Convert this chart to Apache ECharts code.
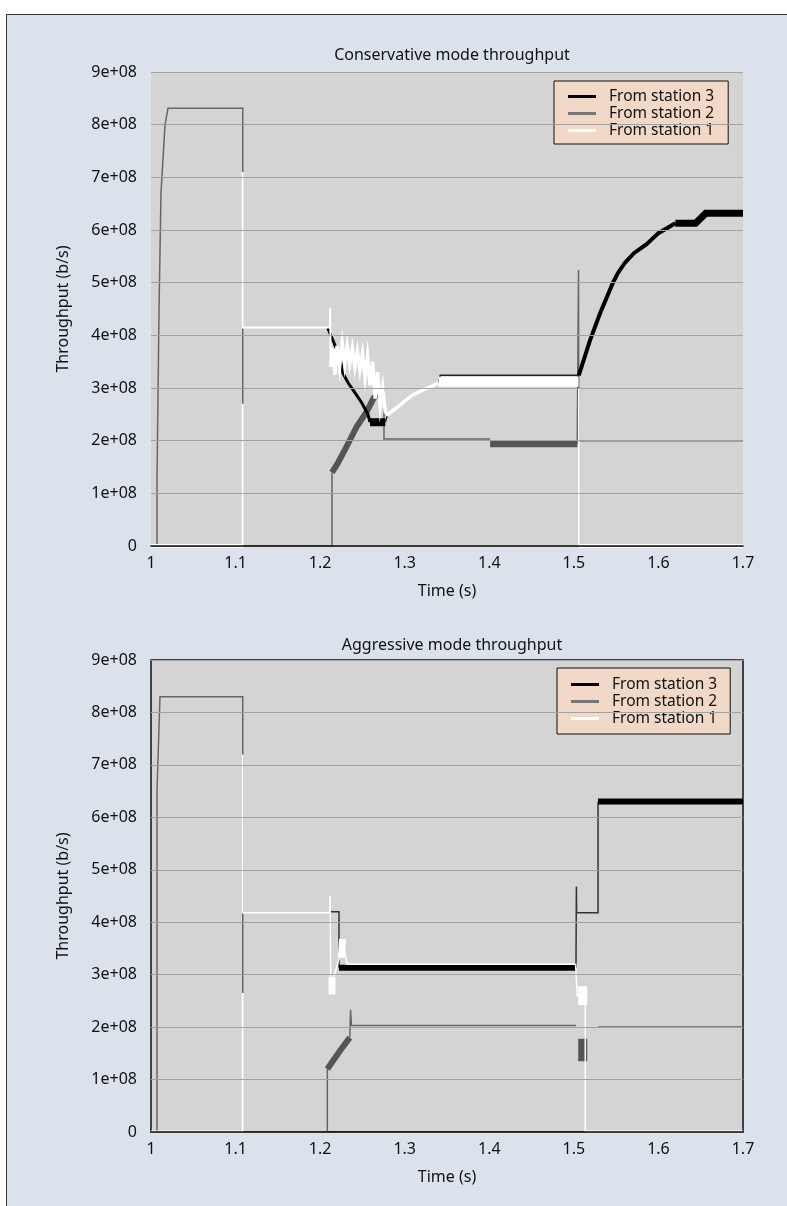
<!DOCTYPE html>
<html>
<head>
<meta charset="utf-8">
<script src="https://cdn.jsdelivr.net/npm/echarts@6/dist/echarts.min.js"></script>
<style>
  html, body { margin: 0; padding: 0; background: #ffffff; }
  #wrap { position: relative; width: 787px; height: 1206px; overflow: hidden; }
  #frame { position: absolute; left: 6px; top: 14px; width: 820px; height: 1240px;
           background: #dbe2ec; border-left: 1.5px solid #3a3a3a; border-top: 1.5px solid #3a3a3a; }
  #chart { position: absolute; left: 0; top: 0; width: 787px; height: 1206px; }
</style>
</head>
<body>
<div id="wrap"><div id="frame"></div><div id="chart"></div></div>
<script>
// ---------- text ----------
const titles = ['Conservative mode throughput', 'Aggressive mode throughput'];
const seriesNames = ['From station 3', 'From station 2', 'From station 1'];
const xName = 'Time (s)';
const yName = 'Throughput (b/s)';

// ---------- Conservative mode (top) : [time s, throughput b/s] ----------
// station 2 (gray)
const consS2Thin  = [[1.0,0],[1.0071,0],[1.0071,1.25e8],[1.0095,4.5e8],[1.0118,6.7e8],[1.0166,8.0e8],[1.0201,8.31e8],[1.1085,8.31e8],[1.1085,0],[1.2140,0],[1.2140,1.40e8]];
const consS2Blob  = [[1.2140,1.40e8],[1.2200,1.55e8],[1.2300,1.85e8],[1.2430,2.26e8],[1.2550,2.55e8],[1.2630,2.80e8],[1.2720,2.97e8]];
const consS2Flat  = [[1.2720,2.97e8],[1.2755,2.97e8],[1.2755,2.03e8],[1.4010,2.03e8]];
const consS2Comb  = [[1.4010,1.94e8],[1.5040,1.94e8]];
const consS2Tail  = [[1.5040,1.94e8],[1.5055,5.24e8],[1.5058,2.0e8],[1.7,2.0e8]];
// station 3 (black)
const consS3Drop  = [[1.2090,4.14e8],[1.2165,3.85e8],[1.2235,3.58e8],[1.2270,3.28e8],[1.2330,3.10e8],[1.2395,2.95e8],[1.2495,2.71e8],[1.2565,2.50e8],[1.2590,2.35e8]];
const consS3Block = [[1.2590,2.35e8],[1.2770,2.35e8]];
const consS3Mid   = [[1.2770,2.35e8],[1.2800,2.50e8],[1.3000,2.75e8],[1.3200,2.95e8],[1.3400,3.10e8],[1.3420,3.24e8],[1.5058,3.24e8]];
const consS3Curve = [[1.5058,3.24e8],[1.519,3.9e8],[1.531,4.42e8],[1.546,4.99e8],[1.552,5.18e8],[1.560,5.37e8],[1.571,5.56e8],[1.586,5.73e8],[1.600,5.94e8],[1.615,6.08e8],[1.620,6.13e8]];
const consS3Top   = [[1.620,6.13e8],[1.644,6.13e8],[1.656,6.32e8],[1.7,6.32e8]];
// station 1 (white)
const consS1Zero1 = [[1.0,0],[1.1085,0]];
const consS1VLow  = [[1.1085,0],[1.1085,2.7e8]];
const consS1Main  = [[1.1085,7.1e8],[1.1085,4.15e8],[1.2115,4.15e8],[1.2118,4.53e8],[1.2125,3.4e8]];
const consS1Blob  = [[1.2125,3.4e8],[1.2150,3.75e8],[1.2175,3.25e8],[1.2200,3.8e8],[1.2230,3.4e8],[1.2260,3.85e8],[1.2290,3.45e8],[1.2320,3.8e8],[1.2350,3.45e8],[1.2380,3.75e8],[1.2410,3.4e8],[1.2440,3.7e8],[1.2470,3.35e8],[1.2500,3.65e8],[1.2530,3.2e8],[1.2560,3.6e8],[1.2590,3.05e8],[1.2620,3.5e8],[1.2650,2.8e8],[1.2680,3.3e8],[1.2710,2.65e8],[1.2740,3.0e8],[1.2770,2.55e8],[1.2800,2.5e8],[1.2900,2.62e8],[1.3000,2.75e8],[1.3100,2.87e8],[1.3200,2.95e8],[1.3300,3.02e8],[1.3400,3.1e8]];
const consS1Band  = [[1.3400,3.12e8],[1.5055,3.12e8]];
const consS1Drop  = [[1.5058,3.0e8],[1.5058,0]];
const consS1Zero2 = [[1.5058,0],[1.7,0]];

// ---------- Aggressive mode (bottom) ----------
// station 2 (gray)
const aggS2Thin  = [[1.0,0],[1.0071,0],[1.0071,6.5e8],[1.0106,8.3e8],[1.1085,8.3e8],[1.1085,0],[1.2085,0],[1.2085,1.2e8]];
const aggS2Blob  = [[1.2085,1.2e8],[1.2235,1.55e8],[1.2350,1.8e8]];
const aggS2Flat  = [[1.2350,1.8e8],[1.2360,2.33e8],[1.2370,2.03e8],[1.5025,2.03e8]];
const aggS2Blob2 = [[1.5105,1.35e8],[1.5105,1.78e8]];
const aggS2Tail  = [[1.5286,2.0e8],[1.7,2.0e8]];
// station 3 (black)
const aggS3Step  = [[1.2117,4.2e8],[1.2223,4.2e8],[1.2223,3.13e8]];
const aggS3Flat  = [[1.2223,3.13e8],[1.5025,3.13e8]];
const aggS3Mid   = [[1.5025,3.13e8],[1.5030,4.68e8],[1.5033,4.18e8],[1.5286,4.18e8],[1.5286,6.3e8]];
const aggS3Top   = [[1.5286,6.3e8],[1.7,6.3e8]];
// station 1 (white)
const aggS1Zero1 = [[1.0,0],[1.1085,0]];
const aggS1VLow  = [[1.1085,0],[1.1085,2.65e8]];
const aggS1Main  = [[1.1085,7.2e8],[1.1085,4.18e8],[1.2115,4.18e8],[1.2118,4.5e8],[1.2125,2.75e8],[1.2240,3.4e8],[1.2270,3.6e8],[1.2320,3.2e8],[1.5020,3.2e8],[1.5040,2.6e8],[1.5135,2.6e8],[1.5135,0]];
const aggS1Blob1 = [[1.2140,2.62e8],[1.2140,2.95e8]];
const aggS1Blob2 = [[1.2250,3.32e8],[1.2265,3.68e8]];
const aggS1Blob3 = [[1.5105,2.42e8],[1.5105,2.78e8]];
const aggS1Zero2 = [[1.5135,0],[1.7,0]];

// ---------- styles ----------
const C3 = '#000000', C2 = '#666666', C2dark = '#555555', C1 = '#ffffff';
const FONT = 'Noto Sans';

const series = [];
function seg(name, color, width, data, gi, z) {
  series.push({
    type: 'line', name: name, xAxisIndex: gi, yAxisIndex: gi, data: data,
    showSymbol: false, symbol: 'none', z: z, silent: true, animation: false, clip: true,
    lineStyle: { color: color, width: width, cap: 'butt', join: 'miter' },
    itemStyle: { color: color }, emphasis: { disabled: true }
  });
}
const [N3, N2, N1] = seriesNames;
// top
seg(N2, C2, 1.5, consS2Thin, 0, 2);
seg(N2, C2dark, 6, consS2Blob, 0, 2);
seg(N2, C2, 1.5, consS2Flat, 0, 2);
seg(N2, C2dark, 7, consS2Comb, 0, 2);
seg(N2, C2, 1.5, consS2Tail, 0, 2);
seg(N3, C3, 3, consS3Drop, 0, 3);
seg(N3, C3, 8, consS3Block, 0, 3);
seg(N3, '#222222', 1.5, consS3Mid, 0, 3);
seg(N3, C3, 4, consS3Curve, 0, 3);
seg(N3, C3, 7, consS3Top, 0, 3);
seg(N1, C1, 4, consS1Zero1, 0, 4);
seg(N1, C1, 2, consS1VLow, 0, 4);
seg(N1, C1, 2, consS1Main, 0, 4);
seg(N1, C1, 3.5, consS1Blob, 0, 4);
seg(N1, C1, 10, consS1Band, 0, 4);
seg(N1, C1, 1.5, consS1Drop, 0, 4);
seg(N1, C1, 4, consS1Zero2, 0, 4);
// bottom
seg(N2, C2, 1.5, aggS2Thin, 1, 2);
seg(N2, C2dark, 6, aggS2Blob, 1, 2);
seg(N2, C2, 1.5, aggS2Flat, 1, 2);
seg(N2, C2dark, 9, aggS2Blob2, 1, 2);
seg(N2, C2, 1.5, aggS2Tail, 1, 2);
seg(N3, '#333333', 1.5, aggS3Step, 1, 3);
seg(N3, C3, 6, aggS3Flat, 1, 3);
seg(N3, '#333333', 1.5, aggS3Mid, 1, 3);
seg(N3, C3, 6, aggS3Top, 1, 3);
seg(N1, C1, 3, aggS1Zero1, 1, 4);
seg(N1, C1, 2, aggS1VLow, 1, 4);
seg(N1, C1, 1.5, aggS1Main, 1, 4);
seg(N1, C1, 7, aggS1Blob1, 1, 4);
seg(N1, C1, 7, aggS1Blob2, 1, 4);
seg(N1, C1, 9, aggS1Blob3, 1, 4);
seg(N1, C1, 3, aggS1Zero2, 1, 4);

const gridBoxes = [
  { left: 151, top: 72, width: 592, height: 474 },
  { left: 151, top: 660, width: 592, height: 472 }
];
const titleTops = [41, 631];
const legendBoxes = [{ left: 554, top: 81, pad: [7, 14, 5, 14] }, { left: 557, top: 668, pad: [8, 13, 7, 14] }];

function xAxisFor(i) {
  return {
    type: 'value', gridIndex: i, min: 1, max: 1.7, interval: 0.1, z: 6,
    name: xName, nameLocation: 'middle', nameGap: 37,
    nameTextStyle: { fontFamily: FONT, fontSize: 16, color: '#111' },
    axisLine: { show: true, onZero: false, lineStyle: { color: '#111', width: 1.5 } },
    axisTick: { show: false },
    splitLine: { show: false },
    axisLabel: { margin: 9, fontFamily: FONT, fontSize: 16, color: '#111',
                 formatter: v => String(Math.round(v * 10) / 10) }
  };
}
function yAxisFor(i) {
  return {
    type: 'value', gridIndex: i, min: 0, max: 9e8, interval: 1e8, z: 6,
    name: yName, nameLocation: 'middle', nameGap: 80,
    nameTextStyle: { fontFamily: FONT, fontSize: 16, color: '#111' },
    axisLine: { show: false }, axisTick: { show: false },
    splitLine: { show: true, lineStyle: { color: '#a2a2a2', width: 1 } },
    axisLabel: { margin: 14, fontFamily: FONT, fontSize: 16, color: '#111',
                 formatter: v => v === 0 ? '0' : Math.round(v / 1e8) + 'e+08' }
  };
}
function legendFor(i) {
  const b = legendBoxes[i];
  return {
    orient: 'vertical', left: b.left, top: b.top, padding: b.pad, itemGap: 0,
    itemWidth: 28, itemHeight: 3, icon: 'rect', selectedMode: false,
    backgroundColor: '#f2d9c7', borderColor: '#111', borderWidth: 1,
    textStyle: { fontFamily: FONT, fontSize: 15.5, color: '#111', lineHeight: 17, padding: [0, 0, 0, 8] },
    data: [
      { name: N3, itemStyle: { color: C3 } },
      { name: N2, itemStyle: { color: '#777777' } },
      { name: N1, itemStyle: { color: C1 } }
    ]
  };
}

const option = {
  animation: false,
  backgroundColor: 'transparent',
  title: titles.map((t, i) => ({
    text: t, left: 447, top: titleTops[i], textAlign: 'center',
    textStyle: { fontFamily: FONT, fontSize: 16, fontWeight: 'normal', color: '#111', lineHeight: 18 }
  })),
  legend: [legendFor(0), legendFor(1)],
  grid: [
    Object.assign({ show: true, backgroundColor: '#d4d4d4', borderWidth: 0 }, gridBoxes[0]),
    Object.assign({ show: true, backgroundColor: '#d4d4d4', borderColor: '#111', borderWidth: 1.5 }, gridBoxes[1])
  ],
  xAxis: [xAxisFor(0), xAxisFor(1)],
  yAxis: [yAxisFor(0), yAxisFor(1)],
  series: series
};

const chart = echarts.init(document.getElementById('chart'), null, { renderer: 'canvas', width: 787, height: 1206 });
chart.setOption(option);
</script>
</body>
</html>
